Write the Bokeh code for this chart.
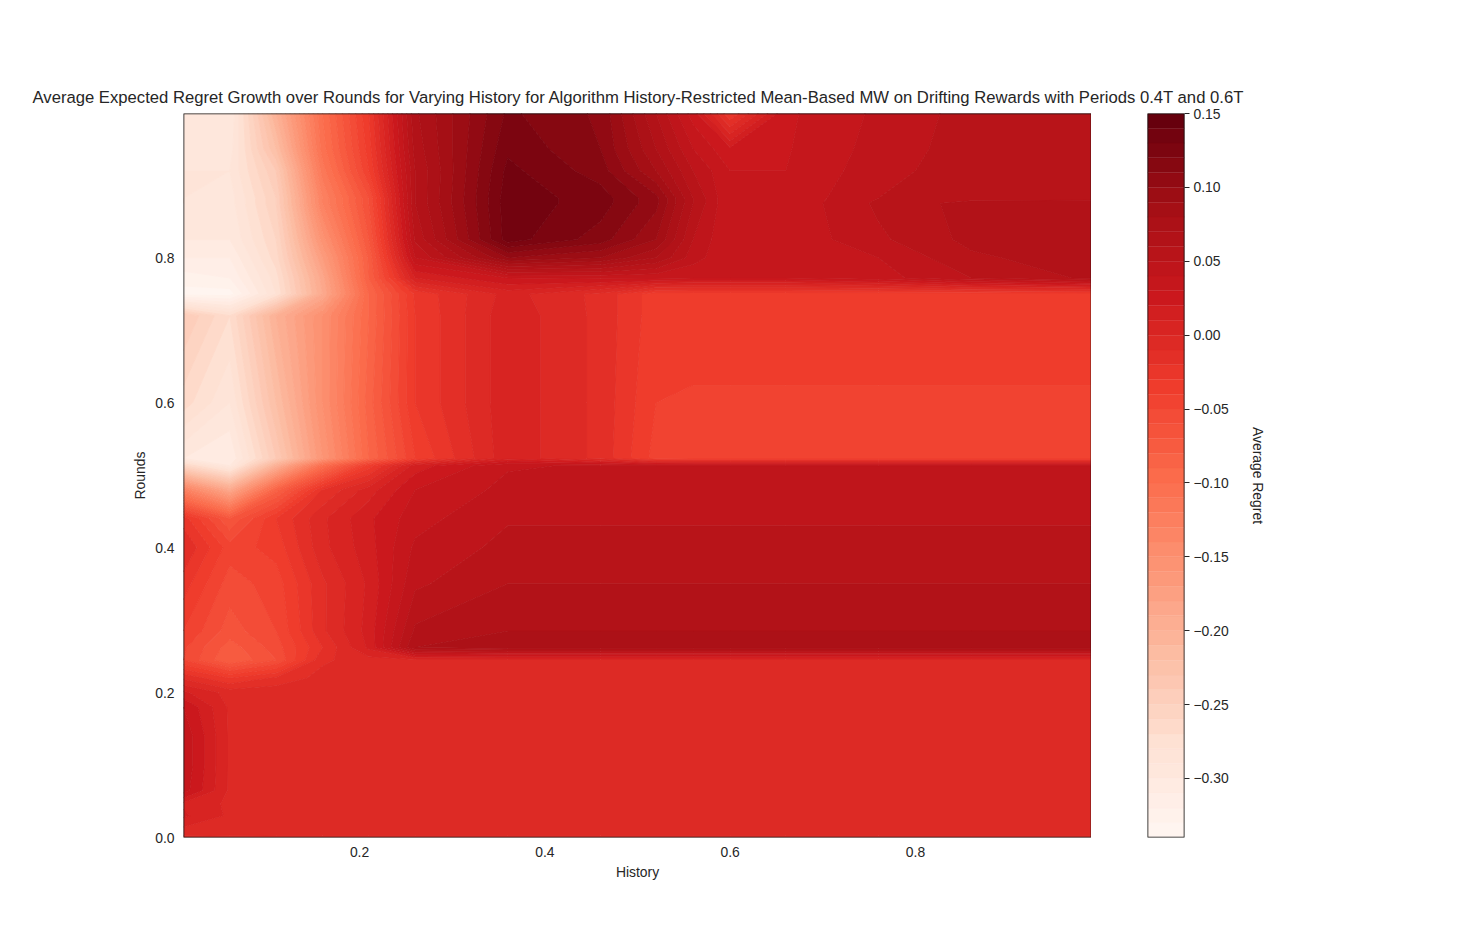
from bokeh.plotting import figure
from bokeh.layouts import row, column
from bokeh.models import BoxAnnotation, FixedTicker, LinearAxis, Range1d
from bokeh.palettes import Reds256, linear_palette
from bokeh.embed import file_html
from bokeh.resources import INLINE
import numpy as np

history = [0.01, 0.06, 0.11, 0.16, 0.21, 0.26, 0.36, 0.46, 0.52, 0.56, 0.60, 0.66, 0.76, 0.86, 0.99]
rounds = [0.0, 0.012, 0.03, 0.047, 0.065, 0.10, 0.14, 0.18, 0.20, 0.22, 0.245, 0.262, 0.285, 0.35, 0.40,
          0.44, 0.48, 0.513, 0.523, 0.60, 0.72, 0.75, 0.772, 0.80, 0.825, 0.875, 0.882, 0.92, 0.95, 1.0]

Z = -0.003
regret = [
    [-0.012, -0.012, -0.012, -0.012, -0.012, -0.012, -0.012, -0.012, -0.012, -0.012, -0.012, -0.012, -0.012, -0.012, -0.012],
    [-0.002, -0.004, Z, Z, Z, Z, Z, Z, Z, Z, Z, Z, Z, Z, Z],
    [ 0.012, -0.002, Z, Z, Z, Z, Z, Z, Z, Z, Z, Z, Z, Z, Z],
    [ 0.008, -0.002, Z, Z, Z, Z, Z, Z, Z, Z, Z, Z, Z, Z, Z],
    [ 0.035, -0.002, Z, Z, Z, Z, Z, Z, Z, Z, Z, Z, Z, Z, Z],
    [ 0.038, -0.002, Z, Z, Z, Z, Z, Z, Z, Z, Z, Z, Z, Z, Z],
    [ 0.038, -0.002, Z, Z, Z, Z, Z, Z, Z, Z, Z, Z, Z, Z, Z],
    [ 0.030, -0.002, Z, Z, Z, Z, Z, Z, Z, Z, Z, Z, Z, Z, Z],
    [ 0.012, -0.004, Z, Z, Z, Z, Z, Z, Z, Z, Z, Z, Z, Z, Z],
    [-0.012, -0.030, -0.018, -0.006, Z, Z, Z, Z, Z, Z, Z, Z, Z, Z, Z],
    [-0.050, -0.080, -0.060, -0.012, -0.004, Z, Z, Z, Z, Z, Z, Z, Z, Z, Z],
    [-0.048, -0.075, -0.055, -0.020, 0.012, 0.070, 0.075, 0.075, 0.075, 0.075, 0.075, 0.075, 0.075, 0.075, 0.075],
    [-0.040, -0.065, -0.050, -0.012, 0.014, 0.062, 0.070, 0.070, 0.070, 0.070, 0.070, 0.070, 0.070, 0.070, 0.070],
    [-0.025, -0.055, -0.045, -0.012, 0.012, 0.048, 0.060, 0.060, 0.060, 0.060, 0.060, 0.060, 0.060, 0.060, 0.060],
    [-0.010, -0.045, -0.036, -0.003, 0.016, 0.042, 0.053, 0.053, 0.053, 0.053, 0.053, 0.053, 0.053, 0.053, 0.053],
    [-0.025, -0.070, -0.030, -0.002, 0.018, 0.036, 0.049, 0.049, 0.049, 0.049, 0.049, 0.049, 0.049, 0.049, 0.049],
    [-0.130, -0.190, -0.085, -0.020, 0.005, 0.030, 0.043, 0.043, 0.043, 0.043, 0.043, 0.043, 0.043, 0.043, 0.043],
    [-0.260, -0.300, -0.200, -0.100, -0.035, 0.015, 0.039, 0.041, 0.041, 0.041, 0.041, 0.041, 0.041, 0.041, 0.041],
    [-0.300, -0.310, -0.240, -0.160, -0.090, -0.040, 0.007, -0.013, -0.044, -0.046, -0.046, -0.046, -0.046, -0.046, -0.046],
    [-0.265, -0.290, -0.220, -0.150, -0.085, -0.030, 0.007, -0.013, -0.040, -0.041, -0.041, -0.041, -0.041, -0.041, -0.041],
    [-0.240, -0.270, -0.200, -0.150, -0.090, -0.030, 0.007, -0.013, -0.036, -0.036, -0.036, -0.036, -0.036, -0.036, -0.036],
    [-0.335, -0.335, -0.280, -0.190, -0.090, -0.028, 0.004, -0.013, -0.036, -0.036, -0.036, -0.036, -0.036, -0.036, -0.036],
    [-0.325, -0.320, -0.275, -0.185, -0.080, 0.010, 0.030, 0.032, 0.032, 0.030, 0.030, 0.030, 0.036, 0.050, 0.062],
    [-0.310, -0.310, -0.265, -0.170, -0.078, 0.040, 0.100, 0.090, 0.070, 0.045, 0.030, 0.032, 0.040, 0.058, 0.066],
    [-0.300, -0.300, -0.260, -0.155, -0.070, 0.052, 0.135, 0.115, 0.090, 0.050, 0.030, 0.032, 0.048, 0.063, 0.066],
    [-0.290, -0.295, -0.250, -0.130, -0.060, 0.060, 0.136, 0.125, 0.103, 0.060, 0.030, 0.032, 0.052, 0.064, 0.066],
    [-0.290, -0.295, -0.250, -0.130, -0.060, 0.060, 0.136, 0.125, 0.103, 0.060, 0.030, 0.032, 0.050, 0.056, 0.056],
    [-0.290, -0.290, -0.240, -0.115, -0.040, 0.060, 0.133, 0.115, 0.080, 0.050, 0.030, 0.030, 0.046, 0.056, 0.056],
    [-0.292, -0.295, -0.220, -0.105, -0.035, 0.064, 0.128, 0.110, 0.070, 0.040, 0.022, 0.029, 0.044, 0.055, 0.055],
    [-0.295, -0.300, -0.200, -0.100, -0.030, 0.068, 0.122, 0.108, 0.060, 0.025, -0.030, 0.028, 0.042, 0.054, 0.054],
]

color_min = -0.34
color_max = 0.15
band_count = 49
x_ticks = [0.2, 0.4, 0.6, 0.8]
x_tick_labels = ["0.2", "0.4", "0.6", "0.8"]
y_ticks = [0.0, 0.2, 0.4, 0.6, 0.8]
y_tick_labels = ["0.0", "0.2", "0.4", "0.6", "0.8"]
bar_ticks = [0.15, 0.10, 0.05, 0.00, -0.05, -0.10, -0.15, -0.20, -0.25, -0.30]
bar_tick_labels = ["0.15", "0.10", "0.05", "0.00", "\u22120.05", "\u22120.10", "\u22120.15", "\u22120.20", "\u22120.25", "\u22120.30"]

title_text = ("Average Expected Regret Growth over Rounds for Varying History for Algorithm "
              "History-Restricted Mean-Based MW on Drifting Rewards with Periods 0.4T and 0.6T")

INK = "#262626"
FONT = "Liberation Sans"
TEXT = "13.9px"

levels = list(np.linspace(color_min, color_max, band_count + 1))
palette = list(linear_palette(Reds256[::-1], band_count))


def style_axis(ax):
    ax.axis_line_color = None
    ax.major_tick_line_color = None
    ax.minor_tick_line_color = None
    ax.major_label_text_font = FONT
    ax.major_label_text_font_size = TEXT
    ax.major_label_text_color = INK
    ax.axis_label_text_font = FONT
    ax.axis_label_text_font_size = TEXT
    ax.axis_label_text_font_style = "normal"
    ax.axis_label_text_color = INK


def add_frame_line(fig):
    fig.outline_line_color = None
    fig.add_layout(BoxAnnotation(fill_alpha=0, line_color="#111111", line_alpha=1, line_width=1.6, level="overlay"))


# The title is wider than the main plot, so it sits in a strip across the whole page.
strip = figure(
    width=1320, height=107, frame_width=1100, frame_height=1,
    min_border_left=183, min_border_right=37, min_border_top=106, min_border_bottom=0,
    x_range=Range1d(0, 1), y_range=Range1d(0, 1),
    output_backend="svg", toolbar_location=None,
    x_axis_location=None, y_axis_location=None,
)
strip.grid.visible = False
strip.outline_line_color = None
strip.title.text = title_text
strip.title.text_font = FONT
strip.title.text_font_size = "16.67px"
strip.title.text_font_style = "normal"
strip.title.text_color = INK
strip.title.align = "left"
strip.title.offset = -151
strip.title.standoff = 0

p = figure(
    width=1091, height=792, frame_width=908, frame_height=724,
    min_border_left=183, min_border_right=0, min_border_top=6, min_border_bottom=62,
    x_range=Range1d(0.01, 0.99), y_range=Range1d(0.0, 0.999),
    output_backend="svg", toolbar_location=None,
    x_axis_label="History", y_axis_label="Rounds",
)
p.contour(history, rounds, np.array(regret), levels, fill_color=palette,
          line_color=palette + [palette[-1]], line_width=1)
p.grid.visible = False
add_frame_line(p)
style_axis(p.xaxis[0])
style_axis(p.yaxis[0])
p.xaxis[0].ticker = FixedTicker(ticks=x_ticks)
p.xaxis[0].major_label_overrides = dict(zip(x_ticks, x_tick_labels))
p.yaxis[0].ticker = FixedTicker(ticks=y_ticks)
p.yaxis[0].major_label_overrides = dict(zip(y_ticks, y_tick_labels))
p.xaxis[0].major_label_standoff = 3
p.yaxis[0].major_label_standoff = 3
p.xaxis[0].axis_label_standoff = 4
p.yaxis[0].axis_label_standoff = 4

bar = figure(
    width=243, height=792, frame_width=37, frame_height=724,
    min_border_left=56, min_border_right=150, min_border_top=6, min_border_bottom=62,
    x_range=Range1d(0, 1), y_range=Range1d(color_min, color_max),
    output_backend="svg", toolbar_location=None,
    x_axis_location=None, y_axis_location=None,
)
bar.quad(left=0, right=1, bottom=levels[:-1], top=levels[1:], fill_color=palette, line_color=palette, line_width=0.3)
bar.grid.visible = False
add_frame_line(bar)
bar_axis = LinearAxis(ticker=FixedTicker(ticks=bar_ticks), axis_label="Average Regret",
                      major_label_overrides=dict(zip(bar_ticks, bar_tick_labels)))
style_axis(bar_axis)
bar_axis.major_tick_line_color = INK
bar_axis.major_tick_in = 0
bar_axis.major_tick_out = 5
bar_axis.major_label_standoff = 4
bar_axis.axis_label_standoff = 18
bar.add_layout(bar_axis, "right")

page = column(strip, row(p, bar, spacing=0), spacing=0)
open("out.html", "w").write(file_html(page, INLINE))
